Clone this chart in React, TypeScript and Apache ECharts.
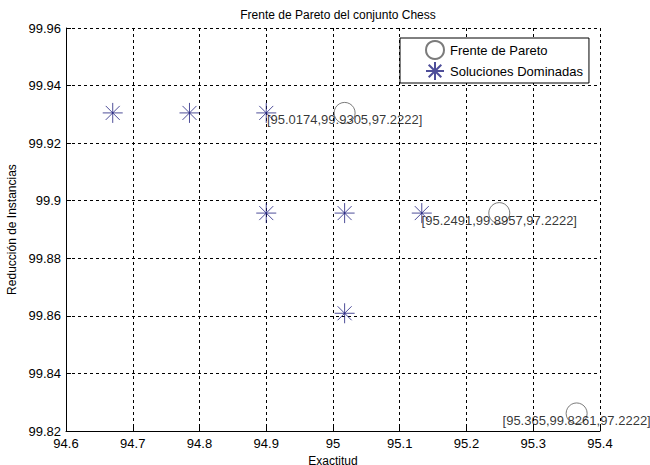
import React, { useEffect, useRef } from "react";
import * as echarts from "echarts";

// Pareto front solutions: accuracy, instance reduction, third objective
const paretoAccuracy = [95.0174, 95.2491, 95.365];
const paretoReduction = [99.9305, 99.8957, 99.8261];
const paretoThird = [97.2222, 97.2222, 97.2222];

// Dominated solutions
const dominatedAccuracy = [94.67, 94.785, 94.9, 94.9, 95.0174, 95.0174, 95.133];
const dominatedReduction = [99.9305, 99.9305, 99.9305, 99.8957, 99.8957, 99.8609, 99.8957];

const xTicks = { min: 94.6, max: 95.4, interval: 0.1 };
const yTicks = { min: 99.82, max: 99.96, interval: 0.02 };

const FONT = "Liberation Sans, Arial, Helvetica, sans-serif";
const ASTERISK = "path://M10,0L10,20M0,10L20,10M3,3L17,17M3,17L17,3";

export default function App() {
  const ref = useRef<HTMLDivElement>(null);

  useEffect(() => {
    if (!ref.current) return;
    const chart = echarts.init(ref.current, null, { renderer: "svg" });

    const paretoData = paretoAccuracy.map((x, i) => [x, paretoReduction[i], paretoThird[i]]);
    const dominatedData = dominatedAccuracy.map((x, i) => [x, dominatedReduction[i]]);

    const fmt = (v: number) => String(+v.toFixed(2));

    const axisCommon = {
      axisLine: { show: true, onZero: false, lineStyle: { color: "#000", width: 1 } },
      axisTick: { show: true, inside: true, length: 5, lineStyle: { color: "#000" } },
      splitLine: { show: true, lineStyle: { color: "#000", type: [3, 3], width: 1 } },
      axisLabel: { color: "#000", fontFamily: FONT, fontSize: 13 },
      nameTextStyle: { color: "#000", fontFamily: FONT, fontSize: 12, lineHeight: 12 },
    };

    chart.setOption({
      animation: false,
      backgroundColor: "#fff",
      title: {
        text: "Frente de Pareto del conjunto Chess",
        left: 333,
        top: 4,
        textAlign: "center",
        textStyle: { fontFamily: FONT, fontSize: 12, fontWeight: "normal", color: "#000" },
      },
      grid: { left: 66, right: 50, top: 28, bottom: 34, containLabel: false, outerBoundsMode: "none" },
      legend: {
        left: 400,
        top: 38,
        orient: "vertical",
        backgroundColor: "#fff",
        borderColor: "#000",
        borderWidth: 1,
        borderRadius: 0,
        padding: [2, 6, 2, 25],
        itemGap: 1,
        itemWidth: 20,
        itemHeight: 18,
        textStyle: { fontFamily: FONT, fontSize: 13, color: "#000" },
        data: [
          { name: "Frente de Pareto", icon: "circle" },
          { name: "Soluciones Dominadas", icon: ASTERISK },
        ],
      },
      xAxis: {
        type: "value",
        ...xTicks,
        name: "Exactitud",
        nameLocation: "middle",
        nameGap: 20,
        ...axisCommon,
        axisLabel: { ...axisCommon.axisLabel, margin: 6, formatter: fmt },
      },
      yAxis: {
        type: "value",
        ...yTicks,
        name: "Reducción de Instancias",
        nameLocation: "middle",
        nameGap: 42,
        ...axisCommon,
        axisLabel: { ...axisCommon.axisLabel, margin: 5, formatter: fmt },
      },
      series: [
        {
          name: "Frente de Pareto",
          type: "scatter",
          symbol: "circle",
          symbolSize: 21,
          itemStyle: { color: "rgba(255,255,255,0)", borderColor: "#5a5a5a", borderWidth: 1 },
          data: paretoData,
          z: 3,
          label: {
            show: true,
            position: "inside",
            offset: [0, 7],
            fontFamily: FONT,
            fontSize: 13,
            color: "#000",
            formatter: (p: any) => `[${p.value[0]},${p.value[1]},${p.value[2]}]`,
          },
        },
        {
          name: "Soluciones Dominadas",
          type: "scatter",
          symbol: ASTERISK,
          symbolSize: 20,
          itemStyle: { color: "#22227f", borderColor: "#22227f", borderWidth: 1 },
          data: dominatedData,
          z: 2,
        },
      ],
    });

    return () => chart.dispose();
  }, []);

  return <div ref={ref} style={{ width: 650, height: 465, position: "absolute", left: 0, top: 0 }} />;
}
